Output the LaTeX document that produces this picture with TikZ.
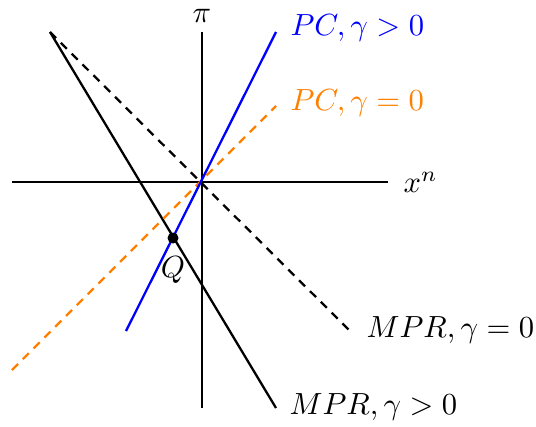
\documentclass[tikz,border=0pt]{standalone}
\begin{document}
\begin{tikzpicture}[x=0.327pt,y=-0.327pt,
  ln/.style={line width=0.75pt},
  dsh/.style={ln,dash pattern=on 2.8pt off 2.2pt},
  lbl/.style={anchor=west,inner sep=0pt}]
\useasboundingbox (0,0) rectangle (536,426);
\definecolor{myorange}{RGB}{255,128,0}
\coordinate (O) at (202,182);
\coordinate (xl) at (12,182);
\coordinate (xr) at (388,182);
\coordinate (yt) at (202,32);
\coordinate (yb) at (202,408);
\coordinate (b1) at (126,331);
\coordinate (b2) at (276,32);
\coordinate (o1) at (12,370);
\coordinate (o2) at (276,106);
\coordinate (d1) at (50,32);
\coordinate (d2) at (350,331);
\coordinate (s1) at (50,32);
\coordinate (s2) at (276,408);
\draw[ln] (xl) -- (xr);
\draw[ln] (yt) -- (yb);
\draw[dsh] (d1) -- (d2);
\draw[ln] (s1) -- (s2);
\draw[dsh,myorange] (o1) -- (o2);
\draw[ln,blue] (b1) -- (b2);
\node[circle,fill,inner sep=0pt,minimum size=3.6pt] (Q) at (173,238) {};
\node (Ql) at (173,270) {$Q$};
\node[inner sep=0pt] (pi) at (202,16) {$\pi$};
\node[lbl] (xn) at (403,182) {$x^n$};
\node[lbl,blue] (l1) at (290,28) {$PC, \gamma > 0$};
\node[lbl,myorange] (l2) at (290,103) {$PC, \gamma = 0$};
\node[lbl] (l3) at (366,330) {$MPR, \gamma = 0$};
\node[lbl] (l4) at (289,407) {$MPR, \gamma > 0$};
\end{tikzpicture}
\end{document}
